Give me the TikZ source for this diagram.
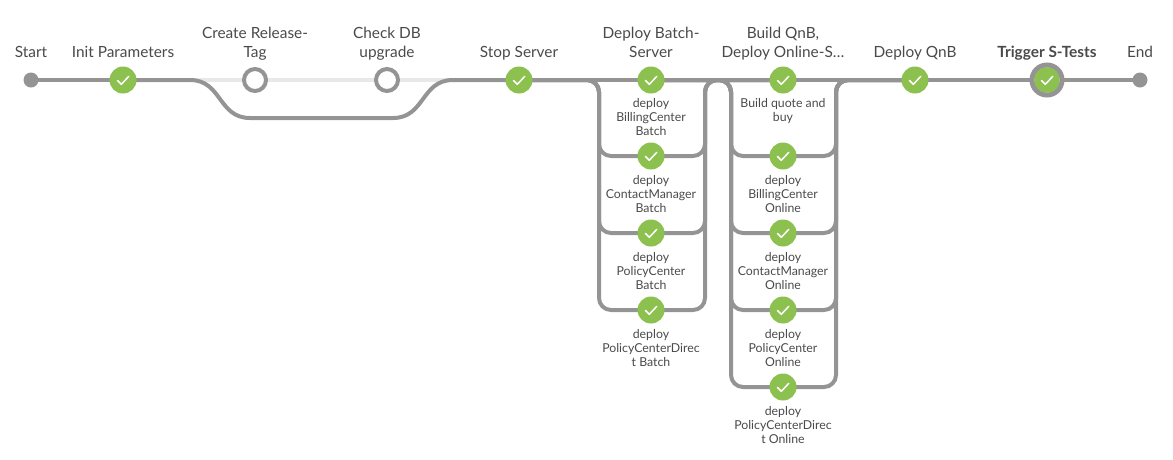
\documentclass[tikz,border=0pt]{standalone}
\usepackage{fontspec}
\setmainfont{Lato}
\usetikzlibrary{backgrounds}
\definecolor{ln}{HTML}{949494}
\definecolor{lite}{HTML}{E8E8E8}
\definecolor{okg}{HTML}{8CC04F}
\definecolor{txt}{HTML}{4A4A4A}
\tikzset{
  x=1pt,y=-1pt,
  conn/.style={draw=ln,line width=4pt},
  fork/.style={conn,rounded corners=12pt},
  skipped/.style={draw=lite,line width=3.5pt},
  okmark/.style={line width=1.5pt,draw=white,line cap=round,line join=round},
  ok/.style={circle,fill=okg,minimum size=27pt,inner sep=0pt,
    path picture={\draw[okmark] (path picture bounding box.center) ++(-5.5pt,-0.5pt) -- ++(3.8pt,-3.8pt) -- ++(7.5pt,8pt);}},
  open/.style={circle,draw=ln,fill=white,line width=4pt,minimum size=22pt,inner sep=0pt},
  dot/.style={circle,fill=ln,minimum size=15pt,inner sep=0pt},
  ring/.style={circle,draw=ln,fill=white,line width=5pt,minimum size=30pt,inner sep=0pt},
  inner/.style={circle,fill=okg,minimum size=25.5pt,inner sep=0pt,
    path picture={\draw[okmark] (path picture bounding box.center) ++(-5.5pt,-0.5pt) -- ++(3.8pt,-3.8pt) -- ++(7.5pt,8pt);}},
  big/.style={text=txt,font=\fontsize{15.4}{18.5}\selectfont,align=center,inner sep=0pt,anchor=base},
  small/.style={text=txt,font=\fontsize{12.3}{14}\selectfont,align=center,inner sep=0pt,anchor=north},
}
\begin{document}
\begin{tikzpicture}
\useasboundingbox (0,0) rectangle (1173,459);
% stage nodes
\node[dot] (start) at (31,80) {};
\node[ok] (init) at (123,80) {};
\node[open] (rel) at (255,80) {};
\node[open] (db) at (387,80) {};
\node[ok] (stop) at (519,80) {};
\node[ok] (b1) at (651,80) {};
\node[ok] (b2) at (651,156) {};
\node[ok] (b3) at (651,233) {};
\node[ok] (b4) at (651,310) {};
\node[ok] (q1) at (783,80) {};
\node[ok] (q2) at (783,156) {};
\node[ok] (q3) at (783,233) {};
\node[ok] (q4) at (783,310) {};
\node[ok] (q5) at (783,387) {};
\node[ok] (qnb) at (915,80) {};
\node[ring] (trig) at (1047,80) {};
\node[inner] (trigin) at (1047,80) {};
\node[dot] (end) at (1140,80) {};
% helper points
\coordinate (sa) at (190,80);
\coordinate (sb) at (250,118);
\coordinate (sc) at (393,118);
\coordinate (sd) at (453,80);
\coordinate (bL) at (599,118);
\coordinate (bR) at (705,118);
\coordinate (qL) at (731,118);
\coordinate (qR) at (836,118);
% labels
\node[big] (lstart) at (31,57) {Start};
\node[big] (linit) at (123,57) {Init Parameters};
\node[big] (lrel) at (255,57) {Create Release-\\Tag};
\node[big] (ldb) at (387,57) {Check DB\\upgrade};
\node[big] (lstop) at (519,57) {Stop Server};
\node[big] (lb) at (651,57) {Deploy Batch-\\Server};
\node[big] (lq) at (783,57) {Build QnB,\\Deploy Online-S\ldots};
\node[big] (lqnb) at (915,57) {Deploy QnB};
\node[big,font=\fontsize{15.4}{18.5}\selectfont\bfseries] (ltrig) at (1047,57) {Trigger S-Tests};
\node[big] (lend) at (1140,57) {End};
\node[small] (lb1) at (651,98) {deploy\\BillingCenter\\Batch};
\node[small] (lb2) at (651,175) {deploy\\ContactManager\\Batch};
\node[small] (lb3) at (651,252) {deploy\\PolicyCenter\\Batch};
\node[small] (lb4) at (651,329) {deploy\\PolicyCenterDirec\\t Batch};
\node[small] (lq1) at (783,98) {Build quote and\\buy};
\node[small] (lq2) at (783,175) {deploy\\BillingCenter\\Online};
\node[small] (lq3) at (783,252) {deploy\\ContactManager\\Online};
\node[small] (lq4) at (783,329) {deploy\\PolicyCenter\\Online};
\node[small] (lq5) at (783,406) {deploy\\PolicyCenterDirec\\t Online};
\begin{scope}[on background layer]
  \draw[skipped] (init.center) -- (rel.center);
  \draw[skipped] (rel.center) -- (db.center);
  \draw[skipped] (db.center) -- (stop.center);
  \draw[conn] (start.center) -- (init.center);
  \draw[conn] (init.center) -- (sa) .. controls (222,80) and (218,118) .. (sb) -- (sc) .. controls (425,118) and (421,80) .. (sd) -- (stop.center);
  \draw[conn] (stop.center) -- (b1.center);
  \draw[conn] (b1.center) -- (q1.center);
  \draw[conn] (q1.center) -- (qnb.center);
  \draw[conn] (qnb.center) -- (trig.center);
  \draw[conn] (trig.center) -- (end.center);
  \foreach \n in {b2,b3,b4}{
    \draw[fork] (stop.center) -| (bL) |- (\n.center);
    \draw[fork] (\n.center) -| (bR) |- (q1.center);
  }
  \foreach \n in {q2,q3,q4,q5}{
    \draw[fork] (b1.center) -| (qL) |- (\n.center);
    \draw[fork] (\n.center) -| (qR) |- (qnb.center);
  }
\end{scope}
\end{tikzpicture}
\end{document}
